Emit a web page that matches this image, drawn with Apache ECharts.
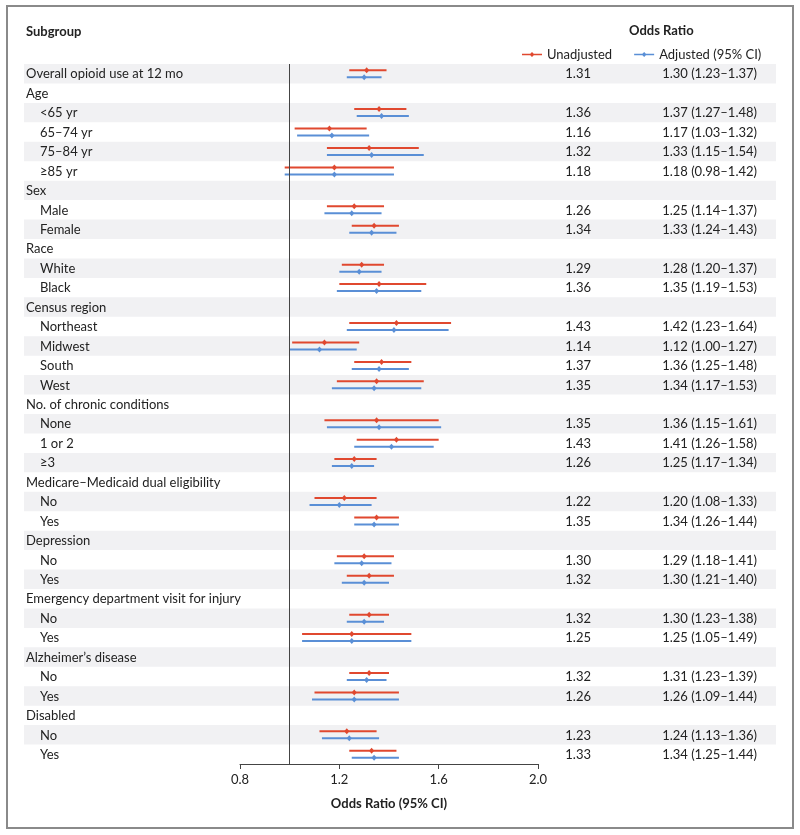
<!DOCTYPE html>
<html>
<head>
<meta charset="utf-8">
<script src="https://cdn.jsdelivr.net/npm/echarts@6/dist/echarts.min.js"></script>
<style>html,body{margin:0;padding:0;background:#fff}#c{width:800px;height:835px}</style>
</head>
<body>
<div id="c"></div>
<script>
const categories = ['Overall opioid use at 12 mo','Age','<65 yr','65–74 yr','75–84 yr','≥85 yr','Sex','Male','Female','Race','White','Black','Census region','Northeast','Midwest','South','West','No. of chronic conditions','None','1 or 2','≥3','Medicare–Medicaid dual eligibility','No','Yes','Depression','No','Yes','Emergency department visit for injury','No','Yes','Alzheimer’s disease','No','Yes','Disabled','No','Yes'];
const indent = [0,0,1,1,1,1,0,1,1,0,1,1,0,1,1,1,1,0,1,1,1,0,1,1,0,1,1,0,1,1,0,1,1,0,1,1];
const unadj     = [1.31,null,1.36,1.16,1.32,1.18,null,1.26,1.34,null,1.29,1.36,null,1.43,1.14,1.37,1.35,null,1.35,1.43,1.26,null,1.22,1.35,null,1.30,1.32,null,1.32,1.25,null,1.32,1.26,null,1.23,1.33];
const unadjLow  = [1.24,null,1.26,1.02,1.15,0.98,null,1.15,1.25,null,1.21,1.20,null,1.24,1.01,1.26,1.19,null,1.14,1.27,1.18,null,1.10,1.26,null,1.19,1.23,null,1.24,1.05,null,1.24,1.10,null,1.12,1.24];
const unadjHigh = [1.39,null,1.47,1.31,1.52,1.42,null,1.38,1.44,null,1.38,1.55,null,1.65,1.28,1.49,1.54,null,1.60,1.60,1.35,null,1.35,1.44,null,1.42,1.42,null,1.40,1.49,null,1.40,1.44,null,1.35,1.43];
const adj       = [1.30,null,1.37,1.17,1.33,1.18,null,1.25,1.33,null,1.28,1.35,null,1.42,1.12,1.36,1.34,null,1.36,1.41,1.25,null,1.20,1.34,null,1.29,1.30,null,1.30,1.25,null,1.31,1.26,null,1.24,1.34];
const adjLow    = [1.23,null,1.27,1.03,1.15,0.98,null,1.14,1.24,null,1.20,1.19,null,1.23,1.00,1.25,1.17,null,1.15,1.26,1.17,null,1.08,1.26,null,1.18,1.21,null,1.23,1.05,null,1.23,1.09,null,1.13,1.25];
const adjHigh   = [1.37,null,1.48,1.32,1.54,1.42,null,1.37,1.43,null,1.37,1.53,null,1.64,1.27,1.48,1.53,null,1.61,1.58,1.34,null,1.33,1.44,null,1.41,1.40,null,1.38,1.49,null,1.39,1.44,null,1.36,1.44];
const xTicks = [0.8, 1.2, 1.6, 2.0];

const RED = '#e0482f', BLUE = '#5a8fd6', TXT = '#222';
const FONT = 'Lato';

const rows = categories.map((c, i) => i);
function ciData(lo, hi, pt) {
  const out = [];
  rows.forEach(i => { if (pt[i] != null) out.push([lo[i], hi[i], pt[i], i]); });
  return out;
}
function ciRender(offset, color) {
  return function (params, api) {
    const i = api.value(3);
    const p1 = api.coord([api.value(0), i]);
    const p2 = api.coord([api.value(1), i]);
    const pc = api.coord([api.value(2), i]);
    const y = p1[1] + offset;
    return {
      type: 'group',
      children: [
        { type: 'line', shape: { x1: p1[0], y1: y, x2: p2[0], y2: y }, style: { stroke: color, lineWidth: 2 } },
        { type: 'polygon', shape: { points: [[pc[0], y - 3], [pc[0] + 2.6, y], [pc[0], y + 3], [pc[0] - 2.6, y]] }, style: { fill: color } }
      ]
    };
  };
}
const fmt = v => v.toFixed(2);

const chart = echarts.init(document.getElementById('c'), null, { renderer: 'canvas' });
const legendIcon = 'path://M0,4.3H20V5.7H0Z M10,2.5L12.5,5L10,7.5L7.5,5Z';
chart.setOption({
  animation: false,
  backgroundColor: '#fff',
  textStyle: { fontFamily: FONT },
  grid: { left: 240, right: 262, top: 64, bottom: 71 },
  xAxis: {
    type: 'value', min: 0.8, max: 2.0, interval: 0.4,
    axisLine: { show: true, lineStyle: { color: '#444', width: 1 } },
    axisTick: { show: true, length: 5, lineStyle: { color: '#444' } },
    axisLabel: { color: TXT, fontSize: 13, fontFamily: FONT, margin: 9, formatter: v => xTicks.indexOf(Math.round(v * 10) / 10) >= 0 ? v.toFixed(1) : '' },
    splitLine: { show: false },
    name: 'Odds Ratio (95% CI)', nameLocation: 'middle', nameGap: 33,
    nameTextStyle: { color: TXT, fontSize: 13, fontWeight: 'bold', fontFamily: FONT }
  },
  yAxis: {
    type: 'category', data: categories, inverse: true,
    axisLine: { show: false }, axisTick: { show: false }, axisLabel: { show: false }, splitLine: { show: false }
  },
  legend: {
    left: 522, top: 48, padding: 0, itemWidth: 20, itemHeight: 10, itemGap: 22,
    textStyle: { color: TXT, fontSize: 13, fontFamily: FONT },
    selectedMode: false,
    data: [
      { name: 'Unadjusted', icon: legendIcon, itemStyle: { color: RED } },
      { name: 'Adjusted (95% CI)', icon: legendIcon, itemStyle: { color: BLUE } }
    ]
  },
  graphic: [
    { type: 'rect', shape: { x: 7, y: 6, width: 786, height: 822 }, style: { fill: 'none', stroke: '#8a8a8a', lineWidth: 2 }, silent: true, z: 100 },
    { type: 'text', x: 26, y: 32, style: { text: 'Subgroup', fill: TXT, fontSize: 13, fontWeight: 'bold', fontFamily: FONT, verticalAlign: 'middle' } },
    { type: 'text', x: 629, y: 31, style: { text: 'Odds Ratio', fill: TXT, fontSize: 13, fontWeight: 'bold', fontFamily: FONT, verticalAlign: 'middle' } }
  ],
  series: [
    {
      type: 'custom', name: 'bands', z: 0, silent: true, clip: false,
      data: rows.map(i => [1, i]),
      renderItem: function (params, api) {
        const i = api.value(1);
        if (i % 2 !== 0) return null;
        const c = api.coord([1, i]);
        const h = api.size([0, 1])[1];
        return { type: 'rect', shape: { x: 24, y: c[1] - h / 2, width: 752, height: h }, style: { fill: '#f1f1f3' } };
      },
      markLine: {
        silent: true, symbol: 'none', label: { show: false },
        lineStyle: { color: '#444', type: 'solid', width: 1 },
        data: [{ xAxis: 1.0 }]
      }
    },
    {
      type: 'custom', name: 'labels', z: 3, silent: true, clip: false,
      data: rows.map(i => [1, i]),
      renderItem: function (params, api) {
        const i = api.value(1);
        const c = api.coord([1, i]);
        const y = c[1] + 0.5;
        const kids = [
          { type: 'text', x: 26 + indent[i] * 14, y: y, style: { text: categories[i], fill: TXT, fontSize: 13, fontFamily: FONT, verticalAlign: 'middle', align: 'left' } }
        ];
        if (unadj[i] != null) {
          kids.push({ type: 'text', x: 591, y: y, style: { text: fmt(unadj[i]), fill: TXT, fontSize: 13, fontFamily: FONT, verticalAlign: 'middle', align: 'right' } });
          kids.push({ type: 'text', x: 757, y: y, style: { text: fmt(adj[i]) + ' (' + fmt(adjLow[i]) + '–' + fmt(adjHigh[i]) + ')', fill: TXT, fontSize: 13, fontFamily: FONT, verticalAlign: 'middle', align: 'right' } });
        }
        return { type: 'group', children: kids };
      }
    },
    {
      type: 'custom', name: 'Unadjusted', z: 4, clip: false,
      itemStyle: { color: RED },
      data: ciData(unadjLow, unadjHigh, unadj),
      renderItem: ciRender(-3.5, RED)
    },
    {
      type: 'custom', name: 'Adjusted (95% CI)', z: 4, clip: false,
      itemStyle: { color: BLUE },
      data: ciData(adjLow, adjHigh, adj),
      renderItem: ciRender(3.5, BLUE)
    }
  ]
});
</script>
</body>
</html>
